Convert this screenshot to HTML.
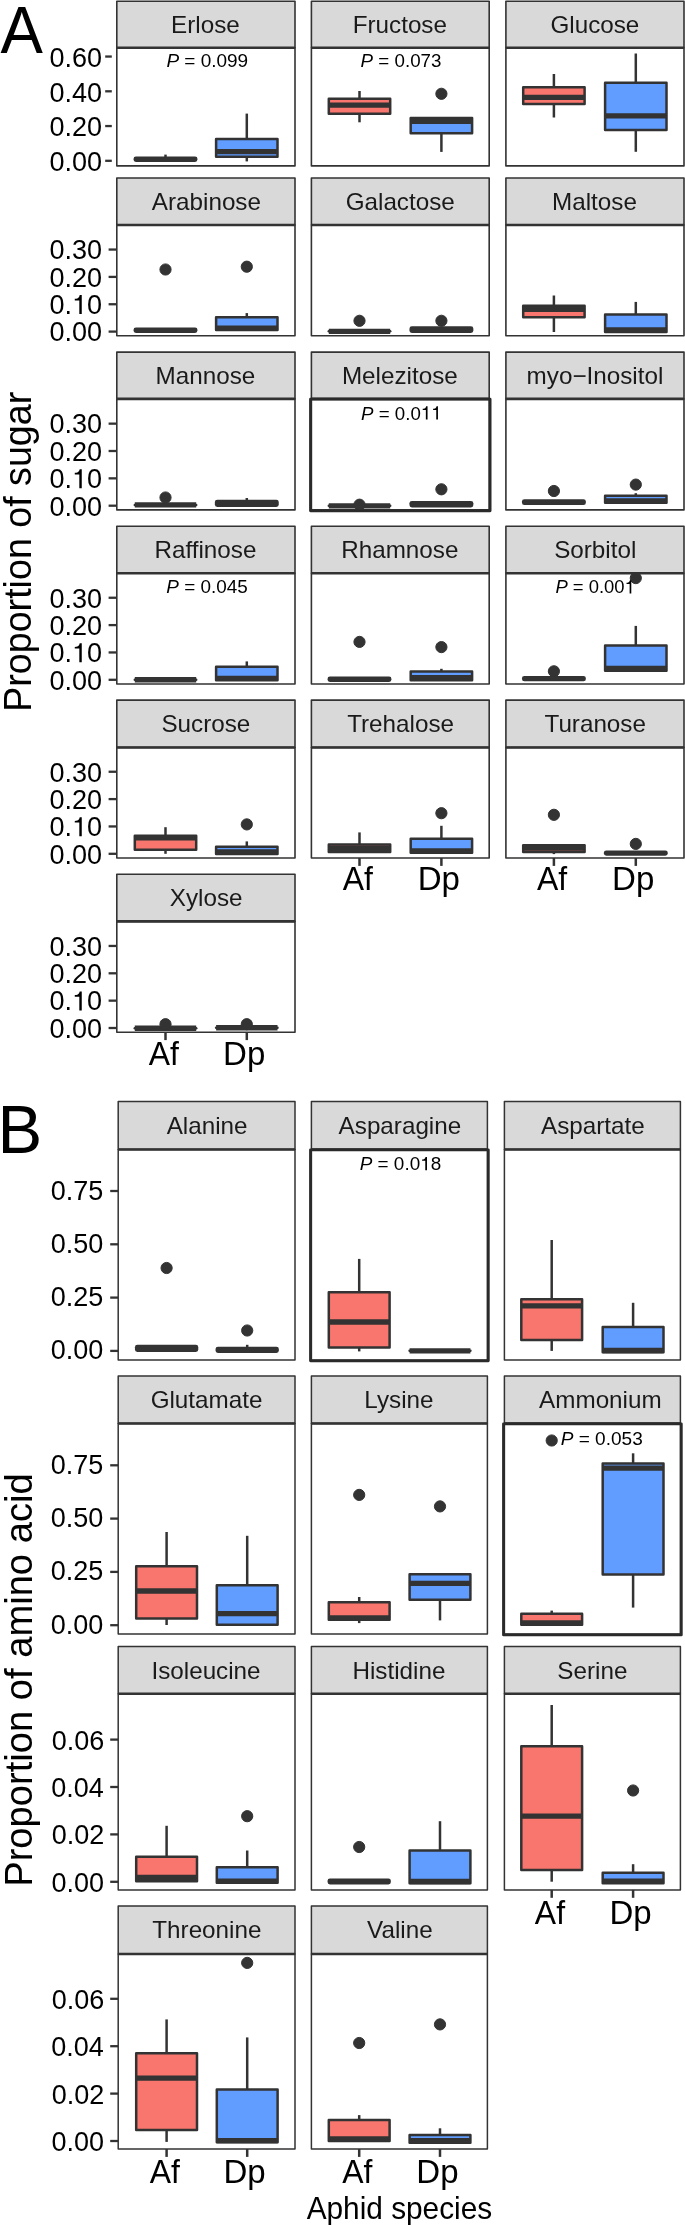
<!DOCTYPE html>
<html><head><meta charset="utf-8"><style>
html,body{margin:0;padding:0;background:#fff;overflow:hidden;}
svg{display:block;will-change:transform;}
text{font-family:"Liberation Sans",sans-serif;}
</style></head><body>
<svg width="685" height="2225" viewBox="0 0 685 2225" font-family="Liberation Sans, sans-serif">
<rect width="685" height="2225" fill="#fff"/>
<rect x="116.8" y="1.3" width="178.2" height="46.5" fill="#D9D9D9" stroke="#333333" stroke-width="1.6" stroke-linejoin="round"/>
<rect x="116.8" y="47.8" width="178.2" height="118.1" fill="#fff" stroke="#333333" stroke-width="1.6" stroke-linejoin="round"/>
<line x1="116.8" y1="47.8" x2="295" y2="47.8" stroke="#333333" stroke-width="2.6"/>
<text transform="translate(171.1,33.01) scale(1.0100,1)" font-size="24" fill="#1A1A1A">Erlose</text>
<rect x="311.4" y="1.3" width="177.8" height="46.5" fill="#D9D9D9" stroke="#333333" stroke-width="1.6" stroke-linejoin="round"/>
<rect x="311.4" y="47.8" width="177.8" height="118.1" fill="#fff" stroke="#333333" stroke-width="1.6" stroke-linejoin="round"/>
<line x1="311.4" y1="47.8" x2="489.2" y2="47.8" stroke="#333333" stroke-width="2.6"/>
<text transform="translate(352.7,33.01) scale(1.0100,1)" font-size="24" fill="#1A1A1A">Fructose</text>
<rect x="505.9" y="1.3" width="178.1" height="46.5" fill="#D9D9D9" stroke="#333333" stroke-width="1.6" stroke-linejoin="round"/>
<rect x="505.9" y="47.8" width="178.1" height="118.1" fill="#fff" stroke="#333333" stroke-width="1.6" stroke-linejoin="round"/>
<line x1="505.9" y1="47.8" x2="684" y2="47.8" stroke="#333333" stroke-width="2.6"/>
<text transform="translate(550.43,33.01) scale(1.0100,1)" font-size="24" fill="#1A1A1A">Glucose</text>
<rect x="116.8" y="178" width="178.2" height="47" fill="#D9D9D9" stroke="#333333" stroke-width="1.6" stroke-linejoin="round"/>
<rect x="116.8" y="225" width="178.2" height="110.8" fill="#fff" stroke="#333333" stroke-width="1.6" stroke-linejoin="round"/>
<line x1="116.8" y1="225" x2="295" y2="225" stroke="#333333" stroke-width="2.6"/>
<text transform="translate(151.84,209.96) scale(1.0100,1)" font-size="24" fill="#1A1A1A">Arabinose</text>
<rect x="311.4" y="178" width="177.8" height="47" fill="#D9D9D9" stroke="#333333" stroke-width="1.6" stroke-linejoin="round"/>
<rect x="311.4" y="225" width="177.8" height="110.8" fill="#fff" stroke="#333333" stroke-width="1.6" stroke-linejoin="round"/>
<line x1="311.4" y1="225" x2="489.2" y2="225" stroke="#333333" stroke-width="2.6"/>
<text transform="translate(345.68,209.96) scale(1.0100,1)" font-size="24" fill="#1A1A1A">Galactose</text>
<rect x="505.9" y="178" width="178.1" height="47" fill="#D9D9D9" stroke="#333333" stroke-width="1.6" stroke-linejoin="round"/>
<rect x="505.9" y="225" width="178.1" height="110.8" fill="#fff" stroke="#333333" stroke-width="1.6" stroke-linejoin="round"/>
<line x1="505.9" y1="225" x2="684" y2="225" stroke="#333333" stroke-width="2.6"/>
<text transform="translate(552.07,209.96) scale(1.0100,1)" font-size="24" fill="#1A1A1A">Maltose</text>
<rect x="116.8" y="352.1" width="178.2" height="46.8" fill="#D9D9D9" stroke="#333333" stroke-width="1.6" stroke-linejoin="round"/>
<rect x="116.8" y="398.9" width="178.2" height="111" fill="#fff" stroke="#333333" stroke-width="1.6" stroke-linejoin="round"/>
<line x1="116.8" y1="398.9" x2="295" y2="398.9" stroke="#333333" stroke-width="2.6"/>
<text transform="translate(155.59,383.96) scale(1.0100,1)" font-size="24" fill="#1A1A1A">Mannose</text>
<rect x="311.4" y="352.1" width="177.8" height="46.8" fill="#D9D9D9" stroke="#333333" stroke-width="1.6" stroke-linejoin="round"/>
<rect x="311.4" y="398.9" width="177.8" height="111" fill="#fff" stroke="#333333" stroke-width="1.6" stroke-linejoin="round"/>
<line x1="311.4" y1="398.9" x2="489.2" y2="398.9" stroke="#333333" stroke-width="2.6"/>
<text transform="translate(341.92,383.96) scale(1.0100,1)" font-size="24" fill="#1A1A1A">Melezitose</text>
<rect x="505.9" y="352.1" width="178.1" height="46.8" fill="#D9D9D9" stroke="#333333" stroke-width="1.6" stroke-linejoin="round"/>
<rect x="505.9" y="398.9" width="178.1" height="111" fill="#fff" stroke="#333333" stroke-width="1.6" stroke-linejoin="round"/>
<line x1="505.9" y1="398.9" x2="684" y2="398.9" stroke="#333333" stroke-width="2.6"/>
<text transform="translate(526.61,383.96) scale(1.0100,1)" font-size="24" fill="#1A1A1A">myo−Inositol</text>
<rect x="116.8" y="526.2" width="178.2" height="47" fill="#D9D9D9" stroke="#333333" stroke-width="1.6" stroke-linejoin="round"/>
<rect x="116.8" y="573.2" width="178.2" height="110.8" fill="#fff" stroke="#333333" stroke-width="1.6" stroke-linejoin="round"/>
<line x1="116.8" y1="573.2" x2="295" y2="573.2" stroke="#333333" stroke-width="2.6"/>
<text transform="translate(154.47,558.16) scale(1.0100,1)" font-size="24" fill="#1A1A1A">Raffinose</text>
<rect x="311.4" y="526.2" width="177.8" height="47" fill="#D9D9D9" stroke="#333333" stroke-width="1.6" stroke-linejoin="round"/>
<rect x="311.4" y="573.2" width="177.8" height="110.8" fill="#fff" stroke="#333333" stroke-width="1.6" stroke-linejoin="round"/>
<line x1="311.4" y1="573.2" x2="489.2" y2="573.2" stroke="#333333" stroke-width="2.6"/>
<text transform="translate(341.24,558.16) scale(1.0100,1)" font-size="24" fill="#1A1A1A">Rhamnose</text>
<rect x="505.9" y="526.2" width="178.1" height="47" fill="#D9D9D9" stroke="#333333" stroke-width="1.6" stroke-linejoin="round"/>
<rect x="505.9" y="573.2" width="178.1" height="110.8" fill="#fff" stroke="#333333" stroke-width="1.6" stroke-linejoin="round"/>
<line x1="505.9" y1="573.2" x2="684" y2="573.2" stroke="#333333" stroke-width="2.6"/>
<text transform="translate(554.13,558.16) scale(1.0100,1)" font-size="24" fill="#1A1A1A">Sorbitol</text>
<rect x="116.8" y="700.1" width="178.2" height="47.4" fill="#D9D9D9" stroke="#333333" stroke-width="1.6" stroke-linejoin="round"/>
<rect x="116.8" y="747.5" width="178.2" height="110.5" fill="#fff" stroke="#333333" stroke-width="1.6" stroke-linejoin="round"/>
<line x1="116.8" y1="747.5" x2="295" y2="747.5" stroke="#333333" stroke-width="2.6"/>
<text transform="translate(161.43,732.26) scale(1.0100,1)" font-size="24" fill="#1A1A1A">Sucrose</text>
<rect x="311.4" y="700.1" width="177.8" height="47.4" fill="#D9D9D9" stroke="#333333" stroke-width="1.6" stroke-linejoin="round"/>
<rect x="311.4" y="747.5" width="177.8" height="110.5" fill="#fff" stroke="#333333" stroke-width="1.6" stroke-linejoin="round"/>
<line x1="311.4" y1="747.5" x2="489.2" y2="747.5" stroke="#333333" stroke-width="2.6"/>
<text transform="translate(347.13,732.26) scale(1.0100,1)" font-size="24" fill="#1A1A1A">Trehalose</text>
<rect x="505.9" y="700.1" width="178.1" height="47.4" fill="#D9D9D9" stroke="#333333" stroke-width="1.6" stroke-linejoin="round"/>
<rect x="505.9" y="747.5" width="178.1" height="110.5" fill="#fff" stroke="#333333" stroke-width="1.6" stroke-linejoin="round"/>
<line x1="505.9" y1="747.5" x2="684" y2="747.5" stroke="#333333" stroke-width="2.6"/>
<text transform="translate(544.48,732.26) scale(1.0100,1)" font-size="24" fill="#1A1A1A">Turanose</text>
<rect x="116.8" y="874.2" width="178.2" height="47.2" fill="#D9D9D9" stroke="#333333" stroke-width="1.6" stroke-linejoin="round"/>
<rect x="116.8" y="921.4" width="178.2" height="110.8" fill="#fff" stroke="#333333" stroke-width="1.6" stroke-linejoin="round"/>
<line x1="116.8" y1="921.4" x2="295" y2="921.4" stroke="#333333" stroke-width="2.6"/>
<text transform="translate(169.79,906.26) scale(1.0100,1)" font-size="24" fill="#1A1A1A">Xylose</text>
<line x1="105.2" y1="56.55" x2="111.8" y2="56.55" stroke="#333333" stroke-width="2.3"/>
<text x="49.54" y="66.75" font-size="27" fill="#000000">0.60</text>
<line x1="105.2" y1="91.3" x2="111.8" y2="91.3" stroke="#333333" stroke-width="2.3"/>
<text x="49.54" y="101.5" font-size="27" fill="#000000">0.40</text>
<line x1="105.2" y1="126.05" x2="111.8" y2="126.05" stroke="#333333" stroke-width="2.3"/>
<text x="49.54" y="136.25" font-size="27" fill="#000000">0.20</text>
<line x1="105.2" y1="160.8" x2="111.8" y2="160.8" stroke="#333333" stroke-width="2.3"/>
<text x="49.54" y="171" font-size="27" fill="#000000">0.00</text>
<line x1="108.6" y1="249.55" x2="116.8" y2="249.55" stroke="#333333" stroke-width="2.3"/>
<text x="49.54" y="259.35" font-size="27" fill="#000000">0.30</text>
<line x1="108.6" y1="276.9" x2="116.8" y2="276.9" stroke="#333333" stroke-width="2.3"/>
<text x="49.54" y="286.7" font-size="27" fill="#000000">0.20</text>
<line x1="108.6" y1="304.25" x2="116.8" y2="304.25" stroke="#333333" stroke-width="2.3"/>
<text x="49.54" y="314.05" font-size="27" fill="#000000">0. 0</text>
<polygon points="81.75,295.07 81.75,314.05 79.32,314.05 79.32,300.42 74.78,300.42 74.78,298.72 76.11,298.66 77.32,298.39 78.32,297.72 79.02,296.91 79.48,295.96 79.7,295.07" fill="#000000"/>
<line x1="108.6" y1="331.6" x2="116.8" y2="331.6" stroke="#333333" stroke-width="2.3"/>
<text x="49.54" y="341.4" font-size="27" fill="#000000">0.00</text>
<line x1="108.6" y1="423.65" x2="116.8" y2="423.65" stroke="#333333" stroke-width="2.3"/>
<text x="49.54" y="433.45" font-size="27" fill="#000000">0.30</text>
<line x1="108.6" y1="451" x2="116.8" y2="451" stroke="#333333" stroke-width="2.3"/>
<text x="49.54" y="460.8" font-size="27" fill="#000000">0.20</text>
<line x1="108.6" y1="478.35" x2="116.8" y2="478.35" stroke="#333333" stroke-width="2.3"/>
<text x="49.54" y="488.15" font-size="27" fill="#000000">0. 0</text>
<polygon points="81.75,469.17 81.75,488.15 79.32,488.15 79.32,474.52 74.78,474.52 74.78,472.82 76.11,472.76 77.32,472.49 78.32,471.82 79.02,471.01 79.48,470.06 79.7,469.17" fill="#000000"/>
<line x1="108.6" y1="505.7" x2="116.8" y2="505.7" stroke="#333333" stroke-width="2.3"/>
<text x="49.54" y="515.5" font-size="27" fill="#000000">0.00</text>
<line x1="108.6" y1="597.75" x2="116.8" y2="597.75" stroke="#333333" stroke-width="2.3"/>
<text x="49.54" y="607.55" font-size="27" fill="#000000">0.30</text>
<line x1="108.6" y1="625.1" x2="116.8" y2="625.1" stroke="#333333" stroke-width="2.3"/>
<text x="49.54" y="634.9" font-size="27" fill="#000000">0.20</text>
<line x1="108.6" y1="652.45" x2="116.8" y2="652.45" stroke="#333333" stroke-width="2.3"/>
<text x="49.54" y="662.25" font-size="27" fill="#000000">0. 0</text>
<polygon points="81.75,643.27 81.75,662.25 79.32,662.25 79.32,648.62 74.78,648.62 74.78,646.92 76.11,646.86 77.32,646.59 78.32,645.92 79.02,645.11 79.48,644.16 79.7,643.27" fill="#000000"/>
<line x1="108.6" y1="679.8" x2="116.8" y2="679.8" stroke="#333333" stroke-width="2.3"/>
<text x="49.54" y="689.6" font-size="27" fill="#000000">0.00</text>
<line x1="108.6" y1="771.75" x2="116.8" y2="771.75" stroke="#333333" stroke-width="2.3"/>
<text x="49.54" y="781.55" font-size="27" fill="#000000">0.30</text>
<line x1="108.6" y1="799.1" x2="116.8" y2="799.1" stroke="#333333" stroke-width="2.3"/>
<text x="49.54" y="808.9" font-size="27" fill="#000000">0.20</text>
<line x1="108.6" y1="826.45" x2="116.8" y2="826.45" stroke="#333333" stroke-width="2.3"/>
<text x="49.54" y="836.25" font-size="27" fill="#000000">0. 0</text>
<polygon points="81.75,817.27 81.75,836.25 79.32,836.25 79.32,822.62 74.78,822.62 74.78,820.92 76.11,820.86 77.32,820.59 78.32,819.92 79.02,819.11 79.48,818.16 79.7,817.27" fill="#000000"/>
<line x1="108.6" y1="853.8" x2="116.8" y2="853.8" stroke="#333333" stroke-width="2.3"/>
<text x="49.54" y="863.6" font-size="27" fill="#000000">0.00</text>
<line x1="108.6" y1="945.95" x2="116.8" y2="945.95" stroke="#333333" stroke-width="2.3"/>
<text x="49.54" y="955.75" font-size="27" fill="#000000">0.30</text>
<line x1="108.6" y1="973.3" x2="116.8" y2="973.3" stroke="#333333" stroke-width="2.3"/>
<text x="49.54" y="983.1" font-size="27" fill="#000000">0.20</text>
<line x1="108.6" y1="1000.65" x2="116.8" y2="1000.65" stroke="#333333" stroke-width="2.3"/>
<text x="49.54" y="1010.45" font-size="27" fill="#000000">0. 0</text>
<polygon points="81.75,991.47 81.75,1010.45 79.32,1010.45 79.32,996.82 74.78,996.82 74.78,995.12 76.11,995.06 77.32,994.79 78.32,994.12 79.02,993.31 79.48,992.36 79.7,991.47" fill="#000000"/>
<line x1="108.6" y1="1028" x2="116.8" y2="1028" stroke="#333333" stroke-width="2.3"/>
<text x="49.54" y="1037.8" font-size="27" fill="#000000">0.00</text>
<line x1="110.2" y1="1191" x2="118.2" y2="1191" stroke="#333333" stroke-width="2.3"/>
<text x="50.82" y="1199.5" font-size="27" fill="#000000">0.75</text>
<line x1="110.2" y1="1244.3" x2="118.2" y2="1244.3" stroke="#333333" stroke-width="2.3"/>
<text x="50.74" y="1252.8" font-size="27" fill="#000000">0.50</text>
<line x1="110.2" y1="1297.6" x2="118.2" y2="1297.6" stroke="#333333" stroke-width="2.3"/>
<text x="50.82" y="1306.1" font-size="27" fill="#000000">0.25</text>
<line x1="110.2" y1="1350.9" x2="118.2" y2="1350.9" stroke="#333333" stroke-width="2.3"/>
<text x="50.74" y="1359.4" font-size="27" fill="#000000">0.00</text>
<line x1="110.2" y1="1465.3" x2="118.2" y2="1465.3" stroke="#333333" stroke-width="2.3"/>
<text x="50.82" y="1473.8" font-size="27" fill="#000000">0.75</text>
<line x1="110.2" y1="1518.6" x2="118.2" y2="1518.6" stroke="#333333" stroke-width="2.3"/>
<text x="50.74" y="1527.1" font-size="27" fill="#000000">0.50</text>
<line x1="110.2" y1="1571.9" x2="118.2" y2="1571.9" stroke="#333333" stroke-width="2.3"/>
<text x="50.82" y="1580.4" font-size="27" fill="#000000">0.25</text>
<line x1="110.2" y1="1625.2" x2="118.2" y2="1625.2" stroke="#333333" stroke-width="2.3"/>
<text x="50.74" y="1633.7" font-size="27" fill="#000000">0.00</text>
<line x1="110.2" y1="1739.6" x2="118.2" y2="1739.6" stroke="#333333" stroke-width="2.3"/>
<text x="51.67" y="1749.5" font-size="27" fill="#000000">0.06</text>
<line x1="110.2" y1="1787" x2="118.2" y2="1787" stroke="#333333" stroke-width="2.3"/>
<text x="51.27" y="1796.9" font-size="27" fill="#000000">0.04</text>
<line x1="110.2" y1="1834.4" x2="118.2" y2="1834.4" stroke="#333333" stroke-width="2.3"/>
<text x="51.84" y="1844.3" font-size="27" fill="#000000">0.02</text>
<line x1="110.2" y1="1881.8" x2="118.2" y2="1881.8" stroke="#333333" stroke-width="2.3"/>
<text x="51.54" y="1891.7" font-size="27" fill="#000000">0.00</text>
<line x1="110.2" y1="1998.8" x2="118.2" y2="1998.8" stroke="#333333" stroke-width="2.3"/>
<text x="51.67" y="2009" font-size="27" fill="#000000">0.06</text>
<line x1="110.2" y1="2046.2" x2="118.2" y2="2046.2" stroke="#333333" stroke-width="2.3"/>
<text x="51.27" y="2056.4" font-size="27" fill="#000000">0.04</text>
<line x1="110.2" y1="2093.6" x2="118.2" y2="2093.6" stroke="#333333" stroke-width="2.3"/>
<text x="51.84" y="2103.8" font-size="27" fill="#000000">0.02</text>
<line x1="110.2" y1="2141" x2="118.2" y2="2141" stroke="#333333" stroke-width="2.3"/>
<text x="51.54" y="2151.2" font-size="27" fill="#000000">0.00</text>
<line x1="165.5" y1="154.6" x2="165.5" y2="159.2" stroke="#333333" stroke-width="2.5"/>
<rect x="133.55" y="156.4" width="63.9" height="5.6" rx="2.4" fill="#333333"/>
<line x1="246.8" y1="113.6" x2="246.8" y2="138.95" stroke="#333333" stroke-width="2.5"/>
<line x1="246.8" y1="156.65" x2="246.8" y2="161.4" stroke="#333333" stroke-width="2.5"/>
<rect x="216.1" y="138.95" width="61.4" height="17.7" fill="#619CFF" stroke="#333333" stroke-width="2.5" stroke-linejoin="round"/>
<line x1="216.1" y1="151.6" x2="277.5" y2="151.6" stroke="#333333" stroke-width="5.3"/>
<line x1="359.5" y1="91" x2="359.5" y2="98.75" stroke="#333333" stroke-width="2.5"/>
<line x1="359.5" y1="113.75" x2="359.5" y2="122.3" stroke="#333333" stroke-width="2.5"/>
<rect x="328.8" y="98.75" width="61.4" height="15" fill="#F8766D" stroke="#333333" stroke-width="2.5" stroke-linejoin="round"/>
<line x1="328.8" y1="105.1" x2="390.2" y2="105.1" stroke="#333333" stroke-width="5.3"/>
<line x1="441.4" y1="133.35" x2="441.4" y2="151.9" stroke="#333333" stroke-width="2.5"/>
<rect x="410.7" y="118.05" width="61.4" height="15.3" fill="#619CFF" stroke="#333333" stroke-width="2.5" stroke-linejoin="round"/>
<line x1="410.7" y1="121.4" x2="472.1" y2="121.4" stroke="#333333" stroke-width="5.3"/>
<circle cx="441.4" cy="93.8" r="5.6" fill="#333333" stroke="#333333" stroke-width="1"/>
<line x1="553.9" y1="74" x2="553.9" y2="87.25" stroke="#333333" stroke-width="2.5"/>
<line x1="553.9" y1="104.05" x2="553.9" y2="117.5" stroke="#333333" stroke-width="2.5"/>
<rect x="523.2" y="87.25" width="61.4" height="16.8" fill="#F8766D" stroke="#333333" stroke-width="2.5" stroke-linejoin="round"/>
<line x1="523.2" y1="97.4" x2="584.6" y2="97.4" stroke="#333333" stroke-width="5.3"/>
<line x1="635.8" y1="53.5" x2="635.8" y2="82.75" stroke="#333333" stroke-width="2.5"/>
<line x1="635.8" y1="129.95" x2="635.8" y2="151.8" stroke="#333333" stroke-width="2.5"/>
<rect x="605.1" y="82.75" width="61.4" height="47.2" fill="#619CFF" stroke="#333333" stroke-width="2.5" stroke-linejoin="round"/>
<line x1="605.1" y1="115.8" x2="666.5" y2="115.8" stroke="#333333" stroke-width="5.3"/>
<rect x="133.55" y="327.4" width="63.9" height="5.5" rx="2.4" fill="#333333"/>
<circle cx="165.5" cy="269.5" r="5.6" fill="#333333" stroke="#333333" stroke-width="1"/>
<line x1="246.8" y1="313.1" x2="246.8" y2="317.15" stroke="#333333" stroke-width="2.5"/>
<rect x="216.1" y="317.15" width="61.4" height="12.9" fill="#619CFF" stroke="#333333" stroke-width="2.5" stroke-linejoin="round"/>
<line x1="216.1" y1="328.2" x2="277.5" y2="328.2" stroke="#333333" stroke-width="5.3"/>
<circle cx="246.8" cy="266.7" r="5.6" fill="#333333" stroke="#333333" stroke-width="1"/>
<rect x="328.8" y="331.35" width="61.4" height="0.01" fill="#333333" stroke="#333333" stroke-width="2.5" stroke-linejoin="round"/>
<line x1="328.8" y1="331.35" x2="390.2" y2="331.35" stroke="#333333" stroke-width="5.3"/>
<circle cx="359.5" cy="320.8" r="5.6" fill="#333333" stroke="#333333" stroke-width="1"/>
<rect x="409.45" y="326.3" width="63.9" height="6.6" rx="2.4" fill="#333333"/>
<circle cx="441.4" cy="320.8" r="5.6" fill="#333333" stroke="#333333" stroke-width="1"/>
<line x1="553.9" y1="295.5" x2="553.9" y2="305.65" stroke="#333333" stroke-width="2.5"/>
<line x1="553.9" y1="317.25" x2="553.9" y2="332" stroke="#333333" stroke-width="2.5"/>
<rect x="523.2" y="305.65" width="61.4" height="11.6" fill="#F8766D" stroke="#333333" stroke-width="2.5" stroke-linejoin="round"/>
<line x1="523.2" y1="309.4" x2="584.6" y2="309.4" stroke="#333333" stroke-width="5.3"/>
<line x1="635.8" y1="301.9" x2="635.8" y2="314.55" stroke="#333333" stroke-width="2.5"/>
<rect x="605.1" y="314.55" width="61.4" height="17.5" fill="#619CFF" stroke="#333333" stroke-width="2.5" stroke-linejoin="round"/>
<line x1="605.1" y1="330" x2="666.5" y2="330" stroke="#333333" stroke-width="5.3"/>
<rect x="134.8" y="504.94" width="61.4" height="0.01" fill="#333333" stroke="#333333" stroke-width="2.5" stroke-linejoin="round"/>
<line x1="134.8" y1="504.95" x2="196.2" y2="504.95" stroke="#333333" stroke-width="5.3"/>
<circle cx="165.5" cy="497.5" r="5.6" fill="#333333" stroke="#333333" stroke-width="1"/>
<line x1="246.8" y1="498" x2="246.8" y2="503.3" stroke="#333333" stroke-width="2.5"/>
<rect x="214.85" y="499.7" width="63.9" height="7.2" rx="2.4" fill="#333333"/>
<rect x="328.8" y="505.8" width="61.4" height="0.01" fill="#333333" stroke="#333333" stroke-width="2.5" stroke-linejoin="round"/>
<line x1="328.8" y1="505.8" x2="390.2" y2="505.8" stroke="#333333" stroke-width="5.3"/>
<circle cx="359.5" cy="504.7" r="5.6" fill="#333333" stroke="#333333" stroke-width="1"/>
<rect x="409.45" y="500.9" width="63.9" height="6.6" rx="2.4" fill="#333333"/>
<circle cx="441.4" cy="489.3" r="5.6" fill="#333333" stroke="#333333" stroke-width="1"/>
<rect x="521.95" y="499.2" width="63.9" height="5.9" rx="2.4" fill="#333333"/>
<circle cx="553.9" cy="491" r="5.6" fill="#333333" stroke="#333333" stroke-width="1"/>
<line x1="635.8" y1="493.2" x2="635.8" y2="495.85" stroke="#333333" stroke-width="2.5"/>
<rect x="605.1" y="495.85" width="61.4" height="7" fill="#619CFF" stroke="#333333" stroke-width="2.5" stroke-linejoin="round"/>
<line x1="605.1" y1="501" x2="666.5" y2="501" stroke="#333333" stroke-width="5.3"/>
<circle cx="635.8" cy="484.6" r="5.6" fill="#333333" stroke="#333333" stroke-width="1"/>
<rect x="134.8" y="679.75" width="61.4" height="0.01" fill="#333333" stroke="#333333" stroke-width="2.5" stroke-linejoin="round"/>
<line x1="134.8" y1="679.75" x2="196.2" y2="679.75" stroke="#333333" stroke-width="5.3"/>
<line x1="246.8" y1="661.4" x2="246.8" y2="666.75" stroke="#333333" stroke-width="2.5"/>
<rect x="216.1" y="666.75" width="61.4" height="13.5" fill="#619CFF" stroke="#333333" stroke-width="2.5" stroke-linejoin="round"/>
<line x1="216.1" y1="678.3" x2="277.5" y2="678.3" stroke="#333333" stroke-width="5.3"/>
<rect x="327.55" y="676.5" width="63.9" height="5.5" rx="2.4" fill="#333333"/>
<circle cx="359.5" cy="641.9" r="5.6" fill="#333333" stroke="#333333" stroke-width="1"/>
<line x1="441.4" y1="668.8" x2="441.4" y2="671.45" stroke="#333333" stroke-width="2.5"/>
<rect x="410.7" y="671.45" width="61.4" height="8.8" fill="#619CFF" stroke="#333333" stroke-width="2.5" stroke-linejoin="round"/>
<line x1="410.7" y1="677.6" x2="472.1" y2="677.6" stroke="#333333" stroke-width="5.3"/>
<circle cx="441.4" cy="647.1" r="5.6" fill="#333333" stroke="#333333" stroke-width="1"/>
<rect x="521.95" y="675.9" width="63.9" height="5.4" rx="2.4" fill="#333333"/>
<circle cx="553.9" cy="671.3" r="5.6" fill="#333333" stroke="#333333" stroke-width="1"/>
<line x1="635.8" y1="625.9" x2="635.8" y2="645.55" stroke="#333333" stroke-width="2.5"/>
<rect x="605.1" y="645.55" width="61.4" height="25.1" fill="#619CFF" stroke="#333333" stroke-width="2.5" stroke-linejoin="round"/>
<line x1="605.1" y1="668.5" x2="666.5" y2="668.5" stroke="#333333" stroke-width="5.3"/>
<circle cx="635.8" cy="578.1" r="5.6" fill="#333333" stroke="#333333" stroke-width="1"/>
<line x1="165.5" y1="827.2" x2="165.5" y2="835.85" stroke="#333333" stroke-width="2.5"/>
<line x1="165.5" y1="849.85" x2="165.5" y2="853.8" stroke="#333333" stroke-width="2.5"/>
<rect x="134.8" y="835.85" width="61.4" height="14" fill="#F8766D" stroke="#333333" stroke-width="2.5" stroke-linejoin="round"/>
<line x1="134.8" y1="837.8" x2="196.2" y2="837.8" stroke="#333333" stroke-width="5.3"/>
<line x1="246.8" y1="841.4" x2="246.8" y2="846.85" stroke="#333333" stroke-width="2.5"/>
<rect x="216.1" y="846.85" width="61.4" height="7.1" fill="#619CFF" stroke="#333333" stroke-width="2.5" stroke-linejoin="round"/>
<line x1="216.1" y1="851.9" x2="277.5" y2="851.9" stroke="#333333" stroke-width="5.3"/>
<circle cx="246.8" cy="824.4" r="5.6" fill="#333333" stroke="#333333" stroke-width="1"/>
<line x1="359.5" y1="832.4" x2="359.5" y2="844.45" stroke="#333333" stroke-width="2.5"/>
<rect x="328.8" y="844.45" width="61.4" height="7.6" fill="#F8766D" stroke="#333333" stroke-width="2.5" stroke-linejoin="round"/>
<line x1="328.8" y1="848.25" x2="390.2" y2="848.25" stroke="#333333" stroke-width="5.3"/>
<line x1="441.4" y1="825.8" x2="441.4" y2="838.65" stroke="#333333" stroke-width="2.5"/>
<rect x="410.7" y="838.65" width="61.4" height="14" fill="#619CFF" stroke="#333333" stroke-width="2.5" stroke-linejoin="round"/>
<line x1="410.7" y1="851" x2="472.1" y2="851" stroke="#333333" stroke-width="5.3"/>
<circle cx="441.4" cy="813.2" r="5.6" fill="#333333" stroke="#333333" stroke-width="1"/>
<line x1="553.9" y1="851.95" x2="553.9" y2="854.1" stroke="#333333" stroke-width="2.5"/>
<rect x="523.2" y="845.15" width="61.4" height="6.8" fill="#F8766D" stroke="#333333" stroke-width="2.5" stroke-linejoin="round"/>
<line x1="523.2" y1="848" x2="584.6" y2="848" stroke="#333333" stroke-width="5.3"/>
<circle cx="553.9" cy="814.8" r="5.6" fill="#333333" stroke="#333333" stroke-width="1"/>
<rect x="603.85" y="850.45" width="63.9" height="5.3" rx="2.4" fill="#333333"/>
<circle cx="635.8" cy="843.9" r="5.6" fill="#333333" stroke="#333333" stroke-width="1"/>
<rect x="134.8" y="1028.24" width="61.4" height="0.01" fill="#333333" stroke="#333333" stroke-width="2.5" stroke-linejoin="round"/>
<line x1="134.8" y1="1028.25" x2="196.2" y2="1028.25" stroke="#333333" stroke-width="5.3"/>
<circle cx="165.5" cy="1024.2" r="5.6" fill="#333333" stroke="#333333" stroke-width="1"/>
<rect x="216.1" y="1027.74" width="61.4" height="0.01" fill="#333333" stroke="#333333" stroke-width="2.5" stroke-linejoin="round"/>
<line x1="216.1" y1="1027.75" x2="277.5" y2="1027.75" stroke="#333333" stroke-width="5.3"/>
<circle cx="246.8" cy="1024.2" r="5.6" fill="#333333" stroke="#333333" stroke-width="1"/>
<rect x="118.2" y="1101.5" width="176.8" height="48" fill="#D9D9D9" stroke="#333333" stroke-width="1.5" stroke-linejoin="round"/>
<rect x="118.2" y="1149.5" width="176.8" height="210.4" fill="#fff" stroke="#333333" stroke-width="1.5" stroke-linejoin="round"/>
<line x1="118.2" y1="1149.5" x2="295" y2="1149.5" stroke="#333333" stroke-width="2.6"/>
<text transform="translate(166.69,1133.96) scale(1.0100,1)" font-size="24" fill="#1A1A1A">Alanine</text>
<rect x="311.4" y="1101.5" width="176" height="48" fill="#D9D9D9" stroke="#333333" stroke-width="1.5" stroke-linejoin="round"/>
<rect x="311.4" y="1149.5" width="176" height="210.4" fill="#fff" stroke="#333333" stroke-width="1.5" stroke-linejoin="round"/>
<line x1="311.4" y1="1149.5" x2="487.4" y2="1149.5" stroke="#333333" stroke-width="2.6"/>
<text transform="translate(338.61,1133.96) scale(1.0100,1)" font-size="24" fill="#1A1A1A">Asparagine</text>
<rect x="504.4" y="1101.5" width="176" height="48" fill="#D9D9D9" stroke="#333333" stroke-width="1.5" stroke-linejoin="round"/>
<rect x="504.4" y="1149.5" width="176" height="210.4" fill="#fff" stroke="#333333" stroke-width="1.5" stroke-linejoin="round"/>
<line x1="504.4" y1="1149.5" x2="680.4" y2="1149.5" stroke="#333333" stroke-width="2.6"/>
<text transform="translate(541.05,1133.96) scale(1.0100,1)" font-size="24" fill="#1A1A1A">Aspartate</text>
<rect x="118.2" y="1376.1" width="176.8" height="47.4" fill="#D9D9D9" stroke="#333333" stroke-width="1.5" stroke-linejoin="round"/>
<rect x="118.2" y="1423.5" width="176.8" height="210.5" fill="#fff" stroke="#333333" stroke-width="1.5" stroke-linejoin="round"/>
<line x1="118.2" y1="1423.5" x2="295" y2="1423.5" stroke="#333333" stroke-width="2.6"/>
<text transform="translate(150.63,1408.26) scale(1.0100,1)" font-size="24" fill="#1A1A1A">Glutamate</text>
<rect x="311.4" y="1376.1" width="176" height="47.4" fill="#D9D9D9" stroke="#333333" stroke-width="1.5" stroke-linejoin="round"/>
<rect x="311.4" y="1423.5" width="176" height="210.5" fill="#fff" stroke="#333333" stroke-width="1.5" stroke-linejoin="round"/>
<line x1="311.4" y1="1423.5" x2="487.4" y2="1423.5" stroke="#333333" stroke-width="2.6"/>
<text transform="translate(364.37,1408.26) scale(1.0100,1)" font-size="24" fill="#1A1A1A">Lysine</text>
<rect x="504.4" y="1376.1" width="176" height="47.4" fill="#D9D9D9" stroke="#333333" stroke-width="1.5" stroke-linejoin="round"/>
<rect x="504.4" y="1423.5" width="176" height="210.5" fill="#fff" stroke="#333333" stroke-width="1.5" stroke-linejoin="round"/>
<line x1="504.4" y1="1423.5" x2="680.4" y2="1423.5" stroke="#333333" stroke-width="2.6"/>
<text transform="translate(539.1,1408.26) scale(1.0100,1)" font-size="24" fill="#1A1A1A">Ammonium</text>
<rect x="118.2" y="1646.5" width="176.8" height="47.3" fill="#D9D9D9" stroke="#333333" stroke-width="1.5" stroke-linejoin="round"/>
<rect x="118.2" y="1693.8" width="176.8" height="196.1" fill="#fff" stroke="#333333" stroke-width="1.5" stroke-linejoin="round"/>
<line x1="118.2" y1="1693.8" x2="295" y2="1693.8" stroke="#333333" stroke-width="2.6"/>
<text transform="translate(151.45,1678.61) scale(1.0100,1)" font-size="24" fill="#1A1A1A">Isoleucine</text>
<rect x="311.4" y="1646.5" width="176" height="47.3" fill="#D9D9D9" stroke="#333333" stroke-width="1.5" stroke-linejoin="round"/>
<rect x="311.4" y="1693.8" width="176" height="196.1" fill="#fff" stroke="#333333" stroke-width="1.5" stroke-linejoin="round"/>
<line x1="311.4" y1="1693.8" x2="487.4" y2="1693.8" stroke="#333333" stroke-width="2.6"/>
<text transform="translate(352.47,1678.61) scale(1.0100,1)" font-size="24" fill="#1A1A1A">Histidine</text>
<rect x="504.4" y="1646.5" width="176" height="47.3" fill="#D9D9D9" stroke="#333333" stroke-width="1.5" stroke-linejoin="round"/>
<rect x="504.4" y="1693.8" width="176" height="196.1" fill="#fff" stroke="#333333" stroke-width="1.5" stroke-linejoin="round"/>
<line x1="504.4" y1="1693.8" x2="680.4" y2="1693.8" stroke="#333333" stroke-width="2.6"/>
<text transform="translate(557.35,1678.61) scale(1.0100,1)" font-size="24" fill="#1A1A1A">Serine</text>
<rect x="118.2" y="1906" width="176.8" height="48" fill="#D9D9D9" stroke="#333333" stroke-width="1.5" stroke-linejoin="round"/>
<rect x="118.2" y="1954" width="176.8" height="195" fill="#fff" stroke="#333333" stroke-width="1.5" stroke-linejoin="round"/>
<line x1="118.2" y1="1954" x2="295" y2="1954" stroke="#333333" stroke-width="2.6"/>
<text transform="translate(152.3,1938.46) scale(1.0100,1)" font-size="24" fill="#1A1A1A">Threonine</text>
<rect x="311.4" y="1906" width="176" height="48" fill="#D9D9D9" stroke="#333333" stroke-width="1.5" stroke-linejoin="round"/>
<rect x="311.4" y="1954" width="176" height="195" fill="#fff" stroke="#333333" stroke-width="1.5" stroke-linejoin="round"/>
<line x1="311.4" y1="1954" x2="487.4" y2="1954" stroke="#333333" stroke-width="2.6"/>
<text transform="translate(367.1,1938.46) scale(1.0100,1)" font-size="24" fill="#1A1A1A">Valine</text>
<rect x="134.95" y="1344.8" width="63.3" height="7.1" rx="2.4" fill="#333333"/>
<circle cx="166.6" cy="1268" r="5.6" fill="#333333" stroke="#333333" stroke-width="1"/>
<line x1="247.2" y1="1344.8" x2="247.2" y2="1349.85" stroke="#333333" stroke-width="2.5"/>
<rect x="215.55" y="1346.7" width="63.3" height="6.3" rx="2.4" fill="#333333"/>
<circle cx="247.2" cy="1330.5" r="5.6" fill="#333333" stroke="#333333" stroke-width="1"/>
<line x1="359.2" y1="1258.9" x2="359.2" y2="1292.25" stroke="#333333" stroke-width="2.5"/>
<line x1="359.2" y1="1347.45" x2="359.2" y2="1351.4" stroke="#333333" stroke-width="2.5"/>
<rect x="328.8" y="1292.25" width="60.8" height="55.2" fill="#F8766D" stroke="#333333" stroke-width="2.5" stroke-linejoin="round"/>
<line x1="328.8" y1="1322" x2="389.6" y2="1322" stroke="#333333" stroke-width="5.3"/>
<rect x="409.6" y="1350.79" width="60.8" height="0.01" fill="#333333" stroke="#333333" stroke-width="2.5" stroke-linejoin="round"/>
<line x1="409.6" y1="1350.8" x2="470.4" y2="1350.8" stroke="#333333" stroke-width="5.3"/>
<line x1="551.7" y1="1240" x2="551.7" y2="1299.15" stroke="#333333" stroke-width="2.5"/>
<line x1="551.7" y1="1340.05" x2="551.7" y2="1350.9" stroke="#333333" stroke-width="2.5"/>
<rect x="521.3" y="1299.15" width="60.8" height="40.9" fill="#F8766D" stroke="#333333" stroke-width="2.5" stroke-linejoin="round"/>
<line x1="521.3" y1="1305.8" x2="582.1" y2="1305.8" stroke="#333333" stroke-width="5.3"/>
<line x1="633.1" y1="1302.8" x2="633.1" y2="1326.95" stroke="#333333" stroke-width="2.5"/>
<rect x="602.7" y="1326.95" width="60.8" height="25.4" fill="#619CFF" stroke="#333333" stroke-width="2.5" stroke-linejoin="round"/>
<line x1="602.7" y1="1350.5" x2="663.5" y2="1350.5" stroke="#333333" stroke-width="5.3"/>
<line x1="166.6" y1="1532" x2="166.6" y2="1566.15" stroke="#333333" stroke-width="2.5"/>
<line x1="166.6" y1="1618.55" x2="166.6" y2="1625" stroke="#333333" stroke-width="2.5"/>
<rect x="136.2" y="1566.15" width="60.8" height="52.4" fill="#F8766D" stroke="#333333" stroke-width="2.5" stroke-linejoin="round"/>
<line x1="136.2" y1="1591" x2="197" y2="1591" stroke="#333333" stroke-width="5.3"/>
<line x1="247.2" y1="1535.8" x2="247.2" y2="1585.35" stroke="#333333" stroke-width="2.5"/>
<rect x="216.8" y="1585.35" width="60.8" height="39.3" fill="#619CFF" stroke="#333333" stroke-width="2.5" stroke-linejoin="round"/>
<line x1="216.8" y1="1613.7" x2="277.6" y2="1613.7" stroke="#333333" stroke-width="5.3"/>
<line x1="359.2" y1="1597" x2="359.2" y2="1602.35" stroke="#333333" stroke-width="2.5"/>
<line x1="359.2" y1="1619.65" x2="359.2" y2="1623.1" stroke="#333333" stroke-width="2.5"/>
<rect x="328.8" y="1602.35" width="60.8" height="17.3" fill="#F8766D" stroke="#333333" stroke-width="2.5" stroke-linejoin="round"/>
<line x1="328.8" y1="1617.8" x2="389.6" y2="1617.8" stroke="#333333" stroke-width="5.3"/>
<circle cx="359.2" cy="1494.9" r="5.6" fill="#333333" stroke="#333333" stroke-width="1"/>
<line x1="440" y1="1599.65" x2="440" y2="1620.4" stroke="#333333" stroke-width="2.5"/>
<rect x="409.6" y="1574.35" width="60.8" height="25.3" fill="#619CFF" stroke="#333333" stroke-width="2.5" stroke-linejoin="round"/>
<line x1="409.6" y1="1583.3" x2="470.4" y2="1583.3" stroke="#333333" stroke-width="5.3"/>
<circle cx="440" cy="1506.4" r="5.6" fill="#333333" stroke="#333333" stroke-width="1"/>
<line x1="551.7" y1="1610.6" x2="551.7" y2="1613.75" stroke="#333333" stroke-width="2.5"/>
<rect x="521.3" y="1613.75" width="60.8" height="10.9" fill="#F8766D" stroke="#333333" stroke-width="2.5" stroke-linejoin="round"/>
<line x1="521.3" y1="1623" x2="582.1" y2="1623" stroke="#333333" stroke-width="5.3"/>
<circle cx="551.7" cy="1440.5" r="5.6" fill="#333333" stroke="#333333" stroke-width="1"/>
<line x1="633.1" y1="1453.3" x2="633.1" y2="1463.55" stroke="#333333" stroke-width="2.5"/>
<line x1="633.1" y1="1574.45" x2="633.1" y2="1607.6" stroke="#333333" stroke-width="2.5"/>
<rect x="602.7" y="1463.55" width="60.8" height="110.9" fill="#619CFF" stroke="#333333" stroke-width="2.5" stroke-linejoin="round"/>
<line x1="602.7" y1="1468.2" x2="663.5" y2="1468.2" stroke="#333333" stroke-width="5.3"/>
<line x1="166.6" y1="1825.8" x2="166.6" y2="1856.65" stroke="#333333" stroke-width="2.5"/>
<rect x="136.2" y="1856.65" width="60.8" height="24.6" fill="#F8766D" stroke="#333333" stroke-width="2.5" stroke-linejoin="round"/>
<line x1="136.2" y1="1877.4" x2="197" y2="1877.4" stroke="#333333" stroke-width="5.3"/>
<line x1="247.2" y1="1850.5" x2="247.2" y2="1867.15" stroke="#333333" stroke-width="2.5"/>
<rect x="216.8" y="1867.15" width="60.8" height="15.7" fill="#619CFF" stroke="#333333" stroke-width="2.5" stroke-linejoin="round"/>
<line x1="216.8" y1="1881.2" x2="277.6" y2="1881.2" stroke="#333333" stroke-width="5.3"/>
<circle cx="247.2" cy="1816.2" r="5.6" fill="#333333" stroke="#333333" stroke-width="1"/>
<rect x="327.55" y="1878.4" width="63.3" height="6.1" rx="2.4" fill="#333333"/>
<circle cx="359.2" cy="1847" r="5.6" fill="#333333" stroke="#333333" stroke-width="1"/>
<line x1="440" y1="1821.2" x2="440" y2="1850.45" stroke="#333333" stroke-width="2.5"/>
<rect x="409.6" y="1850.45" width="60.8" height="32.9" fill="#619CFF" stroke="#333333" stroke-width="2.5" stroke-linejoin="round"/>
<line x1="409.6" y1="1881.5" x2="470.4" y2="1881.5" stroke="#333333" stroke-width="5.3"/>
<line x1="551.7" y1="1705" x2="551.7" y2="1746.25" stroke="#333333" stroke-width="2.5"/>
<line x1="551.7" y1="1870.05" x2="551.7" y2="1881.7" stroke="#333333" stroke-width="2.5"/>
<rect x="521.3" y="1746.25" width="60.8" height="123.8" fill="#F8766D" stroke="#333333" stroke-width="2.5" stroke-linejoin="round"/>
<line x1="521.3" y1="1816.1" x2="582.1" y2="1816.1" stroke="#333333" stroke-width="5.3"/>
<line x1="633.1" y1="1864.2" x2="633.1" y2="1872.75" stroke="#333333" stroke-width="2.5"/>
<rect x="602.7" y="1872.75" width="60.8" height="10.4" fill="#619CFF" stroke="#333333" stroke-width="2.5" stroke-linejoin="round"/>
<line x1="602.7" y1="1881.2" x2="663.5" y2="1881.2" stroke="#333333" stroke-width="5.3"/>
<circle cx="633.1" cy="1790.5" r="5.6" fill="#333333" stroke="#333333" stroke-width="1"/>
<line x1="166.6" y1="2019.4" x2="166.6" y2="2053.35" stroke="#333333" stroke-width="2.5"/>
<line x1="166.6" y1="2129.95" x2="166.6" y2="2141.9" stroke="#333333" stroke-width="2.5"/>
<rect x="136.2" y="2053.35" width="60.8" height="76.6" fill="#F8766D" stroke="#333333" stroke-width="2.5" stroke-linejoin="round"/>
<line x1="136.2" y1="2078.2" x2="197" y2="2078.2" stroke="#333333" stroke-width="5.3"/>
<line x1="247.2" y1="2037.4" x2="247.2" y2="2089.55" stroke="#333333" stroke-width="2.5"/>
<rect x="216.8" y="2089.55" width="60.8" height="52.7" fill="#619CFF" stroke="#333333" stroke-width="2.5" stroke-linejoin="round"/>
<line x1="216.8" y1="2140.6" x2="277.6" y2="2140.6" stroke="#333333" stroke-width="5.3"/>
<circle cx="247.2" cy="1962.9" r="5.6" fill="#333333" stroke="#333333" stroke-width="1"/>
<line x1="359.2" y1="2115.1" x2="359.2" y2="2120.05" stroke="#333333" stroke-width="2.5"/>
<rect x="328.8" y="2120.05" width="60.8" height="21" fill="#F8766D" stroke="#333333" stroke-width="2.5" stroke-linejoin="round"/>
<line x1="328.8" y1="2139" x2="389.6" y2="2139" stroke="#333333" stroke-width="5.3"/>
<circle cx="359.2" cy="2043" r="5.6" fill="#333333" stroke="#333333" stroke-width="1"/>
<line x1="440" y1="2128.3" x2="440" y2="2134.95" stroke="#333333" stroke-width="2.5"/>
<rect x="409.6" y="2134.95" width="60.8" height="7.8" fill="#619CFF" stroke="#333333" stroke-width="2.5" stroke-linejoin="round"/>
<line x1="409.6" y1="2140.6" x2="470.4" y2="2140.6" stroke="#333333" stroke-width="5.3"/>
<circle cx="440" cy="2024.4" r="5.6" fill="#333333" stroke="#333333" stroke-width="1"/>
<rect x="310.5" y="399.2" width="179.6" height="111.6" fill="none" stroke="#2a2a2a" stroke-width="2.8" stroke-linejoin="round"/>
<rect x="310.5" y="1149.8" width="177.8" height="211" fill="none" stroke="#2a2a2a" stroke-width="2.8" stroke-linejoin="round"/>
<rect x="503.5" y="1423.8" width="177.8" height="211.1" fill="none" stroke="#2a2a2a" stroke-width="2.8" stroke-linejoin="round"/>
<text transform="translate(166.41,67) scale(1.0098,1)" font-size="18.8" fill="#000"><tspan font-style="italic">P</tspan> = 0.099</text>
<text transform="translate(360.62,66.8) scale(0.9977,1)" font-size="18.8" fill="#000"><tspan font-style="italic">P</tspan> = 0.073</text>
<text transform="translate(361.12,419.5) scale(0.9937,1)" font-size="18.8" fill="#000"><tspan font-style="italic">P</tspan> = 0.0  </text>
<polygon points="427.55,406.28 427.55,419.5 425.86,419.5 425.86,410.01 422.73,410.01 422.73,408.82 423.64,408.78 424.48,408.6 425.17,408.13 425.66,407.56 425.98,406.9 426.13,406.28" fill="#000"/>
<polygon points="437.94,406.28 437.94,419.5 436.25,419.5 436.25,410.01 433.12,410.01 433.12,408.82 434.03,408.78 434.87,408.6 435.56,408.13 436.05,407.56 436.37,406.9 436.52,406.28" fill="#000"/>
<text transform="translate(166.31,593.4) scale(1.0061,1)" font-size="18.8" fill="#000"><tspan font-style="italic">P</tspan> = 0.045</text>
<text transform="translate(555.43,593.4) scale(0.9813,1)" font-size="18.8" fill="#000"><tspan font-style="italic">P</tspan> = 0.00 </text>
<polygon points="631.29,580.18 631.29,593.4 629.63,593.4 629.63,583.91 626.53,583.91 626.53,582.72 627.43,582.68 628.26,582.5 628.94,582.03 629.42,581.46 629.74,580.8 629.88,580.18" fill="#000"/>
<text transform="translate(359.71,1170.2) scale(1.0063,1)" font-size="18.8" fill="#000"><tspan font-style="italic">P</tspan> = 0.0 8</text>
<polygon points="426.98,1156.98 426.98,1170.2 425.28,1170.2 425.28,1160.71 422.1,1160.71 422.1,1159.52 423.03,1159.48 423.88,1159.3 424.58,1158.83 425.07,1158.26 425.39,1157.6 425.55,1156.98" fill="#000"/>
<text transform="translate(560.71,1445.1) scale(1.0128,1)" font-size="18.8" fill="#000"><tspan font-style="italic">P</tspan> = 0.053</text>
<line x1="359.5" y1="858" x2="359.5" y2="865.9" stroke="#333333" stroke-width="2.5"/>
<line x1="441.4" y1="858" x2="441.4" y2="865.9" stroke="#333333" stroke-width="2.5"/>
<text transform="translate(342.64,890.4) scale(1,1.0337)" font-size="31.92" fill="#000">Af</text>
<text transform="translate(417.69,890.4) scale(1,0.9985)" font-size="33.04" fill="#000">Dp</text>
<line x1="553.9" y1="858" x2="553.9" y2="865.9" stroke="#333333" stroke-width="2.5"/>
<line x1="635.8" y1="858" x2="635.8" y2="865.9" stroke="#333333" stroke-width="2.5"/>
<text transform="translate(537.04,890.4) scale(1,1.0337)" font-size="31.92" fill="#000">Af</text>
<text transform="translate(612.09,890.4) scale(1,0.9985)" font-size="33.04" fill="#000">Dp</text>
<line x1="165.5" y1="1032.2" x2="165.5" y2="1040.1" stroke="#333333" stroke-width="2.5"/>
<line x1="246.8" y1="1032.2" x2="246.8" y2="1040.1" stroke="#333333" stroke-width="2.5"/>
<text transform="translate(148.64,1064.8) scale(1,1.0428)" font-size="31.92" fill="#000">Af</text>
<text transform="translate(223.09,1064.8) scale(1,1.0073)" font-size="33.04" fill="#000">Dp</text>
<line x1="551.7" y1="1889.9" x2="551.7" y2="1897.8" stroke="#333333" stroke-width="2.5"/>
<line x1="633.1" y1="1889.9" x2="633.1" y2="1897.8" stroke="#333333" stroke-width="2.5"/>
<text transform="translate(534.84,1923.5) scale(1,1.0428)" font-size="31.92" fill="#000">Af</text>
<text transform="translate(609.39,1923.5) scale(1,1.0073)" font-size="33.04" fill="#000">Dp</text>
<line x1="166.6" y1="2149" x2="166.6" y2="2156.9" stroke="#333333" stroke-width="2.5"/>
<line x1="247.2" y1="2149" x2="247.2" y2="2156.9" stroke="#333333" stroke-width="2.5"/>
<text transform="translate(149.74,2182.5) scale(1,1.0337)" font-size="31.92" fill="#000">Af</text>
<text transform="translate(223.49,2182.5) scale(1,0.9985)" font-size="33.04" fill="#000">Dp</text>
<line x1="359.2" y1="2149" x2="359.2" y2="2156.9" stroke="#333333" stroke-width="2.5"/>
<line x1="440" y1="2149" x2="440" y2="2156.9" stroke="#333333" stroke-width="2.5"/>
<text transform="translate(342.34,2182.5) scale(1,1.0337)" font-size="31.92" fill="#000">Af</text>
<text transform="translate(416.29,2182.5) scale(1,0.9985)" font-size="33.04" fill="#000">Dp</text>
<text transform="translate(0.47,52.7) scale(1,1.0468)" font-size="63.6" fill="#000">A</text>
<text transform="translate(-2.4,1153.1) scale(1,1.0168)" font-size="67.04" fill="#000">B</text>
<text transform="translate(31.2,711.79) rotate(-90) scale(1,1.0116)" font-size="37.64" fill="#000">Proportion of sugar</text>
<text transform="translate(32.1,1886.78) rotate(-90) scale(1,1.0212)" font-size="38.15" fill="#000">Proportion of amino acid</text>
<text transform="translate(306.64,2218.6) scale(1,1.0236)" font-size="29.82" fill="#000">Aphid species</text>
</svg>
</body></html>
